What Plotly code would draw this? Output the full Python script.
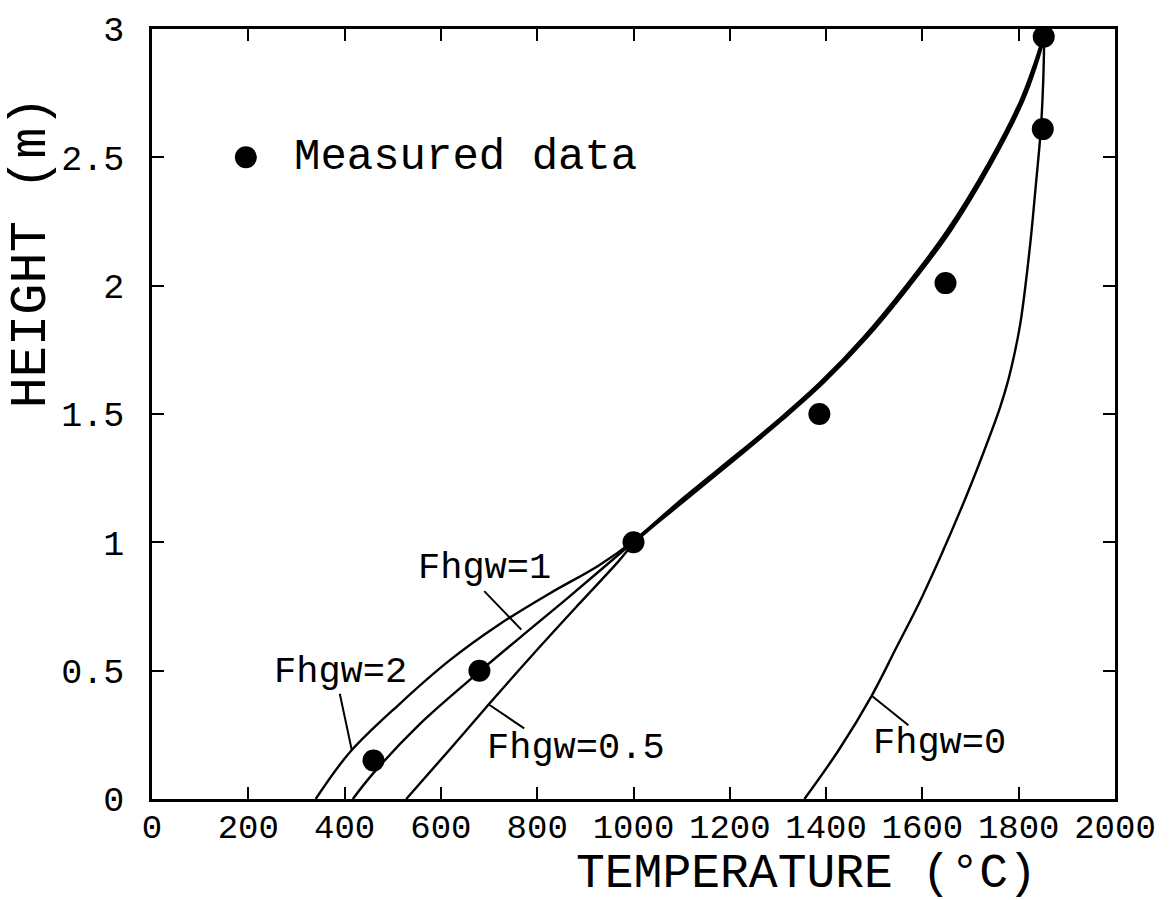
import plotly.graph_objects as go

# Measured temperatures (°C) and heights (m)
meas_temp = [460, 680, 1000, 1386, 1648, 1850, 1852]
meas_height = [0.15, 0.50, 1.00, 1.50, 2.01, 2.61, 2.97]

# Calculated profiles for each Fhgw value
fh2_temp = [340, 410, 514, 618, 721, 825, 928, 996, 1106, 1220, 1302, 1387, 1478, 1566, 1651, 1736, 1803, 1830, 1846, 1851]
fh2_height = [0.0, 0.18, 0.37, 0.54, 0.68, 0.80, 0.91, 1.0, 1.177, 1.351, 1.479, 1.622, 1.8, 2.0, 2.214, 2.474, 2.718, 2.85, 2.94, 2.97]

fh1_temp = [417, 458, 555, 680, 763, 860, 999, 1110, 1224, 1306, 1391, 1482, 1570, 1655, 1740, 1806, 1833, 1848, 1852]
fh1_height = [0.0, 0.097, 0.29, 0.496, 0.627, 0.778, 1.0, 1.177, 1.351, 1.479, 1.622, 1.8, 2.0, 2.214, 2.474, 2.718, 2.85, 2.94, 2.97]

fh05_temp = [528, 617, 700, 792, 887, 966, 1003, 1116, 1229, 1310, 1395, 1486, 1574, 1659, 1743, 1809, 1835, 1849, 1852]
fh05_height = [0.0, 0.19, 0.37, 0.565, 0.76, 0.92, 1.0, 1.177, 1.351, 1.479, 1.622, 1.8, 2.0, 2.214, 2.474, 2.718, 2.85, 2.94, 2.97]

fh0_temp = [1355, 1426, 1494, 1546, 1600, 1689, 1743, 1762, 1778, 1793, 1804, 1814, 1826, 1836, 1846, 1851, 1853]
fh0_height = [0.0, 0.19, 0.40, 0.59, 0.79, 1.17, 1.43, 1.53, 1.63, 1.75, 1.86, 2.0, 2.2, 2.4, 2.61, 2.8, 2.97]

x_ticks = [0, 200, 400, 600, 800, 1000, 1200, 1400, 1600, 1800, 2000]
y_ticks = [0, 0.5, 1, 1.5, 2, 2.5, 3]
y_tick_text = ["0", "0.5", "1", "1.5", "2", "2.5", "3"]

FONT = "Liberation Mono"

fig = go.Figure()

curves = [
    (fh2_temp, fh2_height),
    (fh1_temp, fh1_height),
    (fh05_temp, fh05_height),
    (fh0_temp, fh0_height),
]
for t, h in curves:
    fig.add_trace(go.Scatter(
        x=t, y=h, mode="lines",
        line=dict(color="black", width=2.4, shape="spline", smoothing=1.0),
        showlegend=False, hoverinfo="skip",
    ))

fig.add_trace(go.Scatter(
    x=meas_temp, y=meas_height, mode="markers",
    marker=dict(color="black", size=22),
    showlegend=False,
))

# curve labels: (text, label x, label y, leader start, leader end)
labels = [
    ("Fhgw=1", 690, 0.90, (690, 0.81), (767, 0.66)),
    ("Fhgw=2", 392, 0.496, (390, 0.41), (415, 0.19)),
    ("Fhgw=0.5", 881, 0.20, (698, 0.37), (773, 0.275)),
    ("Fhgw=0", 1635, 0.217, (1494, 0.403), (1571, 0.287)),
]
shapes = []
annotations = []
for text, lx, ly, p0, p1 in labels:
    annotations.append(dict(
        x=lx, y=ly, xref="x", yref="y", text=text, showarrow=False,
        font=dict(family=FONT, size=37, color="black"),
        xanchor="center", yanchor="middle",
    ))
    shapes.append(dict(
        type="line", xref="x", yref="y",
        x0=p0[0], y0=p0[1], x1=p1[0], y1=p1[1],
        line=dict(color="black", width=2),
    ))

# legend key
shapes.append(dict(
    type="circle", xref="x", yref="y",
    xsizemode="pixel", ysizemode="pixel",
    xanchor=195, yanchor=2.5,
    x0=-11, x1=11, y0=-11, y1=11,
    fillcolor="black", line=dict(color="black", width=0),
))
annotations.append(dict(
    x=290, y=2.5, xref="x", yref="y", text="Measured data", showarrow=False,
    font=dict(family=FONT, size=44, color="black"),
    xanchor="left", yanchor="middle",
))

# axis titles
annotations.append(dict(
    x=0.68, y=-0.097, xref="paper", yref="paper", text="TEMPERATURE (°C)",
    showarrow=False, font=dict(family=FONT, size=48, color="black"),
    xanchor="center", yanchor="middle",
))
annotations.append(dict(
    x=-0.1256, y=0.71, xref="paper", yref="paper", text="HEIGHT (m)",
    showarrow=False, textangle=-90, font=dict(family=FONT, size=52, color="black"),
    xanchor="center", yanchor="middle",
))

axis_common = dict(
    showgrid=False, zeroline=False,
    showline=True, linecolor="black", linewidth=2.5,
    mirror="ticks", ticks="inside", ticklen=12, tickwidth=2, tickcolor="black",
)

fig.update_layout(
    width=1174, height=900,
    margin=dict(l=152, r=59, t=24, b=101),
    paper_bgcolor="white", plot_bgcolor="white",
    xaxis=dict(range=[0, 2000], tickvals=x_ticks, ticklabelstandoff=-5,
               tickfont=dict(family=FONT, size=34, color="black"), **axis_common),
    yaxis=dict(range=[0, 3], tickvals=y_ticks, ticktext=y_tick_text,
               ticklabelstandoff=18,
               tickfont=dict(family=FONT, size=35, color="black"), **axis_common),
    shapes=shapes,
    annotations=annotations,
)

fig.write_html("out.html")
